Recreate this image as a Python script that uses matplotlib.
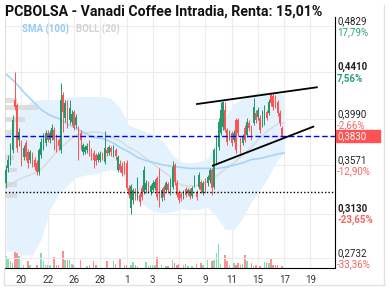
"""Intraday candlestick chart with Bollinger band, SMA and volume."""

import numpy as np
import matplotlib
matplotlib.use("Agg")
import matplotlib.pyplot as plt
from matplotlib.lines import Line2D
from matplotlib.patches import Rectangle

plt.rcParams["font.family"] = ["Roboto", "DejaVu Sans"]

TITLE = "PCBOLSA - Vanadi Coffee Intradia, Renta: 15,01%"

# intraday candles (6 per session)
OPEN = [
    .3409, .3544, .3598, .3707, .4157, .4112, .3797, .3752, .3643, .3770,
    .3688, .3616, .3661, .3616, .3589, .3508, .3661, .3725, .3770, .3860,
    .3797, .3815, .3887, .3833, .3797, .3707, .4203, .3995, .4121, .3977,
    .3959, .4049, .3932, .3896, .3860, .3688, .3688, .3707, .3770, .3707,
    .3679, .3661, .3616, .3616, .3670, .3598, .3707, .3679, .3725, .3661,
    .3707, .3526, .3580, .3562, .3580, .3589, .3364, .3183, .3256, .3346,
    .3283, .3301, .3364, .3328, .3346, .3400, .3328, .3346, .3364, .3454,
    .3508, .3274, .3373, .3346, .3400, .3328, .3373, .3571, .3409, .3328,
    .3310, .3283, .3355, .3319, .3346, .3292, .3391, .3328, .3373, .3418,
    .3319, .3436, .3409, .3436, .3526, .3373, .3589, .3734, .3860, .3914,
    .4067, .3887, .3824, .3860, .3797, .3977, .3977, .3797, .3770, .3905,
    .3842, .3950, .3905, .3950, .4040, .4004, .3995, .3932, .3959, .4049,
    .4040, .4203, .4194, .4185, .4139, .4040, .3905,
]
CLOSE = [
    .3526, .3616, .3725, .3977, .4094, .3725, .3869, .3616, .3725, .3643,
    .3589, .3688, .3589, .3553, .3508, .3707, .3779, .3815, .3860, .3797,
    .3860, .3905, .3797, .3761, .3743, .4157, .4049, .4130, .3959, .4085,
    .4031, .3905, .4004, .3779, .3797, .3752, .3734, .3743, .3670, .3652,
    .3616, .3607, .3661, .3670, .3634, .3725, .3679, .3734, .3688, .3725,
    .3652, .3643, .3526, .3499, .3517, .3364, .3301, .3382, .3346, .3292,
    .3436, .3238, .3283, .3526, .3409, .3346, .3382, .3409, .3418, .3283,
    .3328, .3346, .3283, .3409, .3346, .3436, .3553, .3418, .3301, .3256,
    .3274, .3328, .3301, .3346, .3283, .3364, .3454, .3283, .3481, .3346,
    .3409, .3346, .3463, .3526, .3364, .3707, .3824, .3959, .4067, .4139,
    .3887, .3779, .3869, .3770, .3860, .3707, .3860, .3707, .3824, .3797,
    .3959, .3905, .3824, .4094, .3977, .4067, .3887, .4049, .4085, .3995,
    .4139, .4130, .4094, .4112, .4040, .3950, .3830,
]
HIGH = [
    .3571, .3661, .3770, .4022, .4410, .4130, .3905, .3797, .3752, .3797,
    .3716, .3707, .3688, .3643, .3616, .3725, .3815, .3860, .3887, .3887,
    .3887, .3941, .3914, .3851, .3815, .4311, .4230, .4157, .4157, .4157,
    .4067, .4067, .4031, .3923, .3887, .3770, .3752, .3770, .3797, .3725,
    .3707, .3679, .3688, .3697, .3688, .3878, .3734, .3752, .3743, .3752,
    .3725, .3661, .3616, .3598, .3607, .3616, .3391, .3400, .3364, .3364,
    .3463, .3328, .3391, .3562, .3436, .3427, .3400, .3436, .3445, .3472,
    .3544, .3364, .3391, .3427, .3418, .3454, .3607, .3589, .3436, .3346,
    .3328, .3346, .3373, .3364, .3364, .3382, .3481, .3346, .3508, .3436,
    .3427, .3454, .3481, .3544, .3544, .3725, .3842, .3995, .4139, .4148,
    .4139, .3905, .3887, .3878, .3887, .3995, .3995, .3824, .3851, .3932,
    .3995, .3977, .3932, .4175, .4067, .4094, .4022, .4067, .4112, .4067,
    .4166, .4221, .4221, .4203, .4157, .4067, .3923,
]
LOW = [
    .3364, .3508, .3571, .3679, .4067, .3688, .3743, .3562, .3616, .3616,
    .3544, .3589, .3553, .3526, .3481, .3481, .3634, .3707, .3743, .3779,
    .3770, .3797, .3707, .3688, .3707, .3679, .3869, .3959, .3905, .3941,
    .3932, .3887, .3905, .3616, .3707, .3661, .3670, .3679, .3652, .3616,
    .3544, .3571, .3598, .3598, .3616, .3580, .3652, .3661, .3652, .3643,
    .3616, .3508, .3508, .3472, .3490, .3346, .3274, .3130, .3220, .3256,
    .3256, .3202, .3256, .3310, .3319, .3319, .3301, .3328, .3346, .3256,
    .3192, .3247, .3256, .3328, .3319, .3301, .3355, .3391, .3283, .3229,
    .3247, .3265, .3283, .3301, .3265, .3274, .3373, .3256, .3355, .3319,
    .3301, .3319, .3382, .3409, .3301, .3355, .3571, .3707, .3842, .3887,
    .3869, .3752, .3797, .3743, .3779, .3679, .3833, .3679, .3752, .3779,
    .3824, .3878, .3797, .3932, .3950, .3977, .3860, .3914, .3932, .3977,
    .4022, .4103, .4067, .4085, .4013, .3923, .3815,
]
VOLUME_K = [
    12, 10, 7, 5, 37, 15, 12, 7, 3, 0,
    7, 3, 0, 0, 3, 0, 15, 7, 3, 3,
    3, 0, 11, 3, 3, 0, 17, 8, 8, 8,
    4, 3, 0, 0, 8, 0, 0, 2, 3, 0,
    7, 3, 0, 0, 0, 0, 7, 0, 0, 7,
    4, 0, 9, 0, 3, 3, 0, 3, 6, 3,
    2, 0, 0, 0, 6, 2, 3, 3, 3, 11,
    0, 3, 0, 2, 2, 0, 8, 5, 3, 4,
    0, 3, 4, 2, 0, 2, 0, 4, 0, 5,
    3, 9, 8, 0, 7, 8, 15, 23, 4, 0,
    13, 7, 3, 0, 5, 3, 5, 3, 4, 13,
    7, 0, 5, 2, 3, 0, 2, 0, 6, 5,
    5, 9, 3, 3, 3, 0, 2,
]

# indicators, sampled every 4 candles
IND_IDX = [0, 4, 8, 12, 16, 20, 24, 28, 32, 36, 40, 44, 48, 52, 56, 60, 64,
           68, 72, 76, 80, 84, 88, 92, 96, 100, 104, 108, 112, 116, 120, 124, 127]
BOLL_UPPER = [0.384, 0.401, 0.410, 0.415, 0.416, 0.416, 0.416, 0.418, 0.419,
              0.419, 0.419, 0.419, 0.417, 0.409, 0.393, 0.390, 0.387, 0.384,
              0.378, 0.366, 0.360, 0.359, 0.360, 0.363, 0.380, 0.400, 0.412,
              0.418, 0.421, 0.423, 0.423, 0.422, 0.420]
BOLL_LOWER = [0.280, 0.279, 0.276, 0.276, 0.290, 0.317, 0.330, 0.339, 0.346,
              0.348, 0.349, 0.351, 0.353, 0.351, 0.339, 0.327, 0.319, 0.315,
              0.314, 0.315, 0.318, 0.317, 0.317, 0.319, 0.311, 0.299, 0.299,
              0.309, 0.324, 0.335, 0.347, 0.362, 0.368]
BOLL_MID = [0.337, 0.342, 0.346, 0.349, 0.353, 0.362, 0.371, 0.378, 0.384,
            0.386, 0.387, 0.386, 0.382, 0.379, 0.373, 0.369, 0.363, 0.357,
            0.351, 0.345, 0.339, 0.338, 0.339, 0.342, 0.347, 0.353, 0.359,
            0.366, 0.373, 0.382, 0.389, 0.394, 0.395]
SMA_100 = [0.439, 0.432, 0.423, 0.415, 0.407, 0.402, 0.399, 0.394, 0.390,
           0.386, 0.382, 0.381, 0.378, 0.373, 0.369, 0.364, 0.361, 0.359,
           0.357, 0.356, 0.355, 0.354, 0.354, 0.354, 0.354, 0.355, 0.357,
           0.359, 0.362, 0.363, 0.365, 0.367, 0.368]

# volume by price (left side)
PROFILE_PRICE = [0.4157, 0.4094, 0.3977, 0.3860, 0.3643, 0.3526, 0.3391, 0.3292]
PROFILE_VOL = [13, 37, 23, 10, 10, 13, 13, 13]

# drawn channel (candle index, price)
CHANNEL_TOP = ([87.2, 141.9], [0.4121, 0.4272])
CHANNEL_BOT = ([94.4, 140.3], [0.3565, 0.3917])

LAST_PRICE = 0.3830
SUPPORT = 0.3328

PRICE_TICKS = [0.4829, 0.4410, 0.3990, 0.3571, 0.3130, 0.2732]
PCT_TICKS = [17.79, 7.56, -2.66, -12.90, -23.65, -33.36]
BOLD_TICKS = [False, True, False, False, True, False]

DAY_LABELS = ["20", "22", "26", "28", "1", "3", "5", "9", "11", "15", "17", "19"]
DAY_POS = [7, 19, 31, 43, 55, 67, 79, 91, 103, 115, 127, 139]

GREEN = "#22996a"
RED = "#ff5252"
VOL_GREEN = "#80ddae"
VOL_RED = "#fc9090"
PCT_GREEN = "#2aa172"
PCT_RED = "#f46464"

W, H = 389, 290
fig = plt.figure(figsize=(W / 100, H / 100), dpi=100)
ax = fig.add_axes([5 / W, 1 - 268 / H, 330 / W, 251 / H])

# ── volume (behind) ─────────────────────────────────────────────────────
x = np.arange(len(OPEN))
o, c, h, l = (np.array(v) for v in (OPEN, CLOSE, HIGH, LOW))
up = c >= o

vax = ax.twinx()
vax.bar(x, VOLUME_K, width=0.72, color=np.where(up, VOL_GREEN, VOL_RED), linewidth=0)
vax.set_ylim(0, max(VOLUME_K) * 251 / 38)
vax.set_axis_off()
ax.set_zorder(vax.get_zorder() + 1)
ax.patch.set_visible(False)

# ── bollinger + sma ─────────────────────────────────────────────────────
ax.fill_between(IND_IDX, BOLL_LOWER, BOLL_UPPER, color="#e3f2fd", lw=0, zorder=1)
ax.plot(IND_IDX, BOLL_MID, color="#d9d9d9", lw=1, zorder=2)
ax.plot(IND_IDX, SMA_100, color="#a6d4f8", lw=1.2, zorder=2)

# volume profile
prof_w = np.array(PROFILE_VOL) / max(PROFILE_VOL) * 15
ax.barh(PROFILE_PRICE, prof_w, height=0.0045, left=-0.5, color="#d4d4d4",
        alpha=0.7, lw=0, zorder=3)

# ── candles ─────────────────────────────────────────────────────────────
colors = np.where(up, GREEN, RED)
ax.vlines(x, l, h, colors=colors, lw=0.7, zorder=4)
body = np.maximum(np.abs(c - o), 0.0006)
ax.bar(x, body, bottom=np.minimum(o, c), width=0.72, color=colors, lw=0, zorder=5)

# levels and channel
ax.axhline(LAST_PRICE, color="#0000ff", lw=1, ls=(0, (4, 2)), zorder=6)
ax.axhline(SUPPORT, color="black", lw=1, ls=(0, (1, 1.5)), zorder=6)
ax.plot(*CHANNEL_TOP, color="black", lw=1.3, zorder=7)
ax.plot(*CHANNEL_BOT, color="black", lw=1.3, zorder=7)

# ── axes ────────────────────────────────────────────────────────────────
ax.set_xlim(-0.5, 150.2)
ax.set_ylim(0.2642, 0.4906)
ax.set_xticks(DAY_POS)
ax.set_xticklabels(DAY_LABELS)
ax.set_yticks(PRICE_TICKS)
ax.tick_params(axis="x", length=0, labelsize=7, pad=5, colors="#333333")
ax.tick_params(axis="y", length=0, labelleft=False, labelright=False)
ax.grid(color="#ececec", lw=0.8)
ax.set_axisbelow(True)
ax.spines["top"].set_visible(False)
ax.spines["left"].set_color("#e0e0e0")
ax.spines["right"].set_color("black")
ax.spines["bottom"].set_color("black")

trans = ax.get_yaxis_transform()
for val, pct, bold in zip(PRICE_TICKS, PCT_TICKS, BOLD_TICKS):
    wt = "bold" if bold else "normal"
    ax.annotate(f"{val:.4f}".replace(".", ","), xy=(1, val), xycoords=trans,
                xytext=(1.5, 3.4), textcoords="offset points", fontsize=7,
                ha="left", va="center", weight=wt, color="#222222",
                annotation_clip=False)
    ax.annotate(f"{pct:.2f}%".replace(".", ","), xy=(1, val), xycoords=trans,
                xytext=(1.5, -4.6), textcoords="offset points", fontsize=7,
                ha="left", va="center", weight=wt,
                color=PCT_GREEN if pct > 0 else PCT_RED, annotation_clip=False)

# last price tag
ax.add_patch(Rectangle((1.003, LAST_PRICE - 0.0054), 0.133, 0.0108, transform=trans,
                       color=RED, clip_on=False, zorder=8))
ax.annotate(f"{LAST_PRICE:.4f}".replace(".", ","), xy=(1, LAST_PRICE), xycoords=trans,
            xytext=(1.5, 0), textcoords="offset points", fontsize=7, ha="left",
            va="center", color="white", annotation_clip=False, zorder=9)

# legend labels
ax.text(0.0515, 0.952, "SMA (100)", transform=ax.transAxes, fontsize=7,
        weight="bold", color="#94cbf5", va="center")
ax.text(0.215, 0.952, "BOLL (20)", transform=ax.transAxes, fontsize=7,
        weight="bold", color="#d2d2d2", va="center")

fig.text(5 / W, 1 - 12 / H, TITLE, fontsize=10.2, weight="bold", va="center",
         color="#111111")

# outer frame
frame = dict(color="#e2e2e2", lw=1, transform=fig.transFigure)
fig.add_artist(Line2D([4 / W, 384 / W], [1 - 285 / H] * 2, **frame))
fig.add_artist(Line2D([384 / W] * 2, [1 - 285 / H, 1 - 5 / H], **frame))
fig.add_artist(Line2D([4 / W] * 2, [1 - 285 / H, 1 - 268 / H], **frame))

fig.savefig("out.png", dpi=100)
